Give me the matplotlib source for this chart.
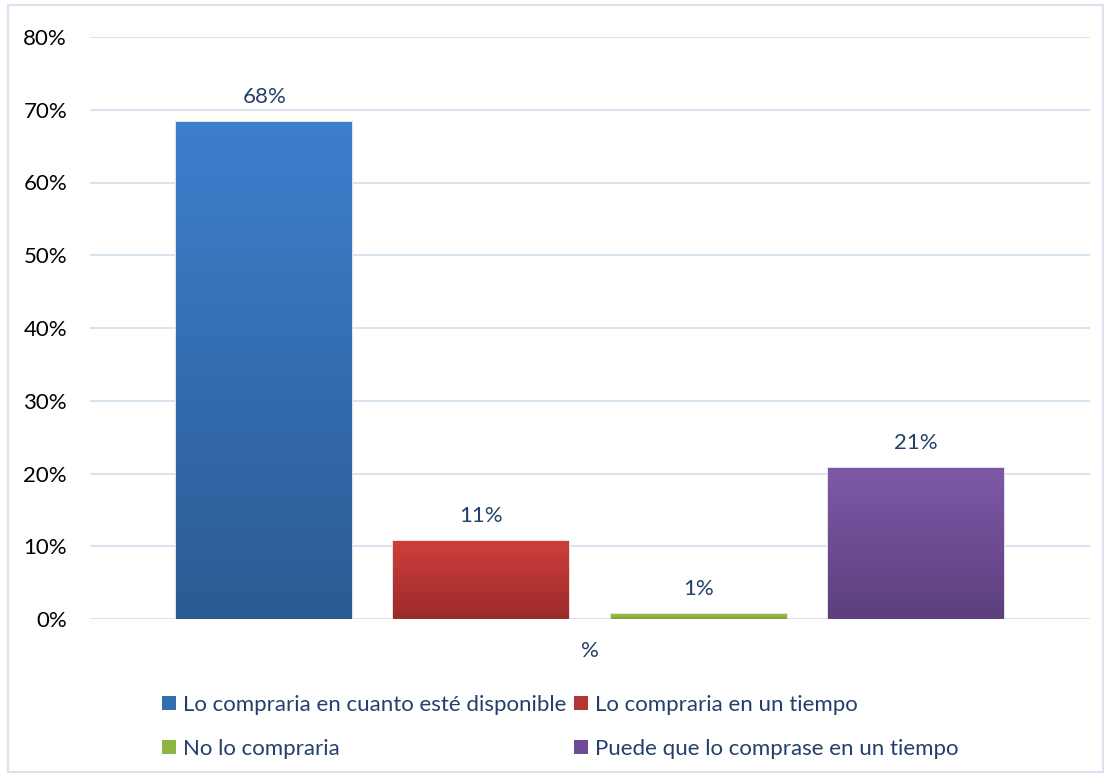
import numpy as np
import matplotlib
matplotlib.use('Agg')
import matplotlib.pyplot as plt
from matplotlib.colors import LinearSegmentedColormap, to_rgb
from matplotlib.patches import Rectangle

plt.rcParams['font.family'] = ['Lato', 'DejaVu Sans']

# --- data ---
categories = ['Lo compraria en cuanto esté disponible',
              'Lo compraria en un tiempo',
              'No lo compraria',
              'Puede que lo comprase en un tiempo']
values = [0.683, 0.107, 0.007, 0.208]
value_labels = ['68%', '11%', '1%', '21%']
group_label = '%'
y_ticks = [0, 0.1, 0.2, 0.3, 0.4, 0.5, 0.6, 0.7, 0.8]
y_tick_labels = ['0%', '10%', '20%', '30%', '40%', '50%', '60%', '70%', '80%']

# top / bottom colours of the gradient fill
top_colors = ['#3D7FCD', '#CF3E3B', '#9CC94B', '#7E59A8']
bottom_colors = ['#2B5B93', '#9A2B2A', '#7EA13A', '#5D3F7E']

label_color = '#243F6B'
grid_color = '#D6E2F0'
FS = 16

fig = plt.figure(figsize=(11.08, 7.77), dpi=100)
ax = fig.add_axes([90 / 1108, 1 - 619 / 777, 1000 / 1108, (619 - 37) / 777])

x = np.arange(len(values))
width = 0.811
bars = ax.bar(x, values, width=width, color='none', edgecolor='#E3E3E3',
              linewidth=1.5, zorder=3)

# gradient fills clipped to the bars
grad = np.linspace(0, 1, 256).reshape(-1, 1)
for b, c_top, c_bot in zip(bars, top_colors, bottom_colors):
    cmap = LinearSegmentedColormap.from_list('g', [c_bot, c_top])
    x0, y0 = b.get_x(), b.get_y()
    w, h = b.get_width(), b.get_height()
    im = ax.imshow(grad, cmap=cmap, origin='lower', aspect='auto',
                   extent=(x0, x0 + w, y0, y0 + h), zorder=4)
    im.set_clip_path(b)

ax.set_xlim(1.5 - 2.304, 1.5 + 2.304)
ax.set_ylim(0, 0.8)

for xi, v, lab in zip(x, values, value_labels):
    ax.annotate(lab, (xi, v), xytext=(0, 18), textcoords='offset points',
                ha='center', va='center', fontsize=FS, color=label_color)

ax.set_yticks(y_ticks)
ax.set_yticklabels(y_tick_labels, fontsize=FS, color='black')
ax.set_xticks([])
ax.tick_params(length=0)
ax.tick_params(axis='y', pad=16.5)
ax.annotate(group_label, (1.5, 0), xytext=(0, -23), textcoords='offset points',
            ha='center', va='center', fontsize=FS, color=label_color)
for s in ax.spines.values():
    s.set_visible(False)
ax.grid(axis='y', color=grid_color, linewidth=1.3, zorder=0)
ax.set_axisbelow(True)

# legend (Excel-like, filled row by row)
handles = []
for c_top, c_bot in zip(top_colors, bottom_colors):
    mid = [(a + b) / 2 for a, b in zip(to_rgb(c_top), to_rgb(c_bot))]
    handles.append(Rectangle((0, 0), 1, 1, facecolor=mid, edgecolor='none'))
order = [0, 2, 1, 3]
leg = fig.legend([handles[i] for i in order], [categories[i] for i in order],
                 ncol=2, loc='upper left', bbox_to_anchor=(162 / 1108, 1 - 695 / 777),
                 frameon=False, fontsize=FS, handlelength=0.63, handleheight=0.63,
                 handletextpad=0.3, columnspacing=0.36, labelspacing=1.07,
                 borderaxespad=0, borderpad=0)
for t in leg.get_texts():
    t.set_color(label_color)

# outer chart frame
fig.patches.append(Rectangle((8 / 1108, 5 / 777), 1095 / 1108, 767 / 777,
                             transform=fig.transFigure, fill=False,
                             edgecolor='#D9E2EE', linewidth=1.5))

fig.savefig('out.png', dpi=100)
